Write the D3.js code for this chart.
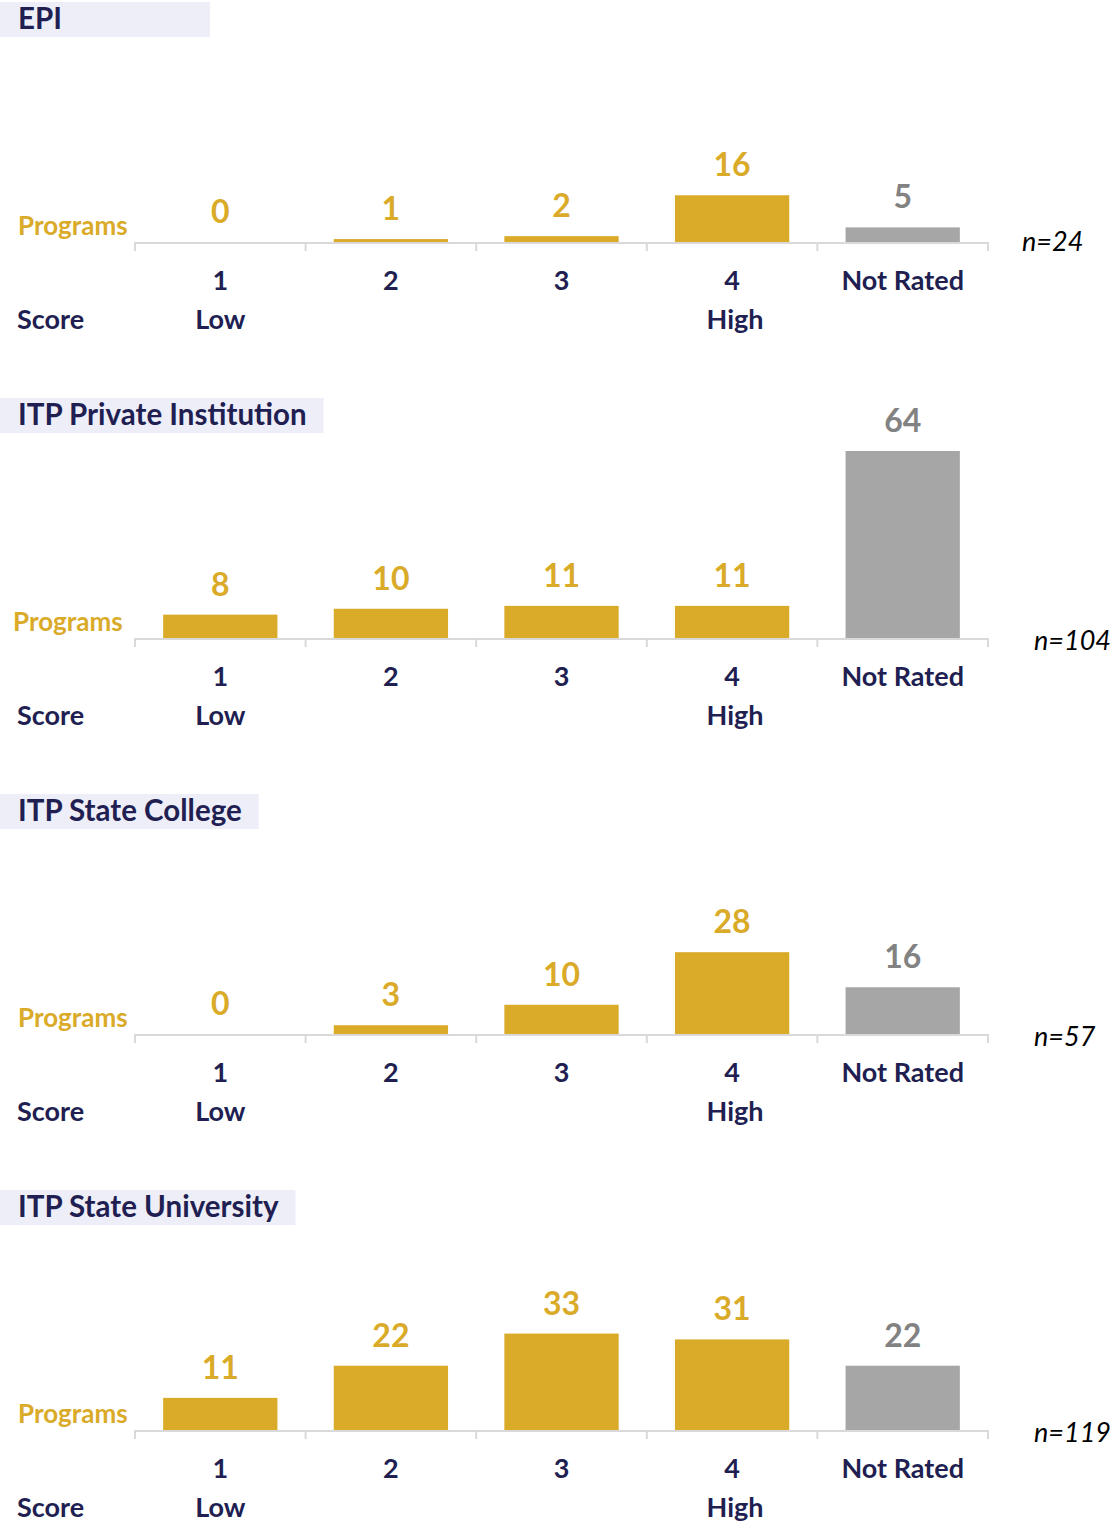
<!DOCTYPE html>
<html>
<head>
<meta charset="utf-8">
<script src="https://cdn.jsdelivr.net/npm/d3@7"></script>
<style>
  html, body { margin: 0; padding: 0; background: #fff; }
  text { font-family: Lato, "Open Sans", sans-serif; }
</style>
</head>
<body>
<svg id="chart"></svg>
<script>
// data
const categories = ['1', '2', '3', '4', 'Not Rated'];
const panelTitles = ['EPI', 'ITP Private Institution', 'ITP State College', 'ITP State University'];
const epiValues = [0, 1, 2, 16, 5];
const privateValues = [8, 10, 11, 11, 64];
const collegeValues = [0, 3, 10, 28, 16];
const universityValues = [11, 22, 33, 31, 22];
const panelValues = [epiValues, privateValues, collegeValues, universityValues];
const panelN = [24, 104, 57, 119];

const WIDTH = 1110;
const HEIGHT = 1525;
const NAVY = '#211f52';
const GOLD = '#daaa29';
const GREY_BAR = '#a6a6a6';
const GREY_LABEL = '#828282';
const AXIS = '#d9d9d9';
const FIRST_AXIS_Y = 242;
const PANEL_STEP = 396;
const LABEL_SIZE = 27;

const svg = d3.select('#chart')
    .attr('width', WIDTH)
    .attr('height', HEIGHT);

svg.append('rect')
    .attr('width', WIDTH)
    .attr('height', HEIGHT)
    .attr('fill', '#fff');

const x = d3.scaleBand()
    .domain(categories)
    .range([135, 988])
    .paddingInner(0.33)
    .paddingOuter(0.165);

// one bar scale shared by all panels (largest bar is 64)
const barHeight = d3.scaleLinear()
    .domain([0, 64])
    .range([0, 187]);

const isNotRated = (cat) => cat === 'Not Rated';

panelTitles.forEach((title, i) => {
    const axisY = FIRST_AXIS_Y + i * PANEL_STEP;
    const g = svg.append('g').attr('class', 'panel');
    const rows = categories.map((cat, j) => ({ cat, value: panelValues[i][j] }));

    // title with tinted box
    const titleBox = g.append('rect')
        .attr('x', 0)
        .attr('y', axisY - 240)
        .attr('height', 35)
        .attr('fill', '#eeeef9');
    const titleText = g.append('text')
        .attr('x', 18)
        .attr('y', axisY - 213)
        .attr('font-size', 29.5)
        .attr('font-weight', 700)
        .attr('fill', NAVY)
        .text(title);
    const titleWidth = titleText.node().getComputedTextLength();
    titleBox.attr('width', Math.max(210, titleWidth + 35));

    // bars
    g.selectAll('rect.bar')
        .data(rows)
        .join('rect')
        .attr('class', 'bar')
        .attr('x', (d) => x(d.cat))
        .attr('width', x.bandwidth())
        .attr('y', (d) => axisY - barHeight(d.value))
        .attr('height', (d) => barHeight(d.value))
        .attr('fill', (d) => (isNotRated(d.cat) ? GREY_BAR : GOLD));

    // value labels
    g.selectAll('text.value')
        .data(rows)
        .join('text')
        .attr('class', 'value')
        .attr('x', (d) => x(d.cat) + x.bandwidth() / 2)
        .attr('y', (d) => axisY - barHeight(d.value) - 19)
        .attr('text-anchor', 'middle')
        .attr('font-size', 32)
        .attr('font-weight', 700)
        .attr('fill', (d) => (isNotRated(d.cat) ? GREY_LABEL : GOLD))
        .text((d) => d.value);

    // axis line + boundary ticks
    const step = x.step();
    const edges = d3.range(categories.length + 1).map((k) => x.range()[0] + k * step);
    g.append('line')
        .attr('x1', x.range()[0])
        .attr('x2', x.range()[1])
        .attr('y1', axisY + 1)
        .attr('y2', axisY + 1)
        .attr('stroke', AXIS)
        .attr('stroke-width', 2);
    g.selectAll('line.tick')
        .data(edges)
        .join('line')
        .attr('class', 'tick')
        .attr('x1', (d) => d)
        .attr('x2', (d) => d)
        .attr('y1', axisY)
        .attr('y2', axisY + 9)
        .attr('stroke', AXIS)
        .attr('stroke-width', 2);

    // category labels via d3 axis
    const xAxis = d3.axisBottom(x).tickSize(0).tickPadding(0);
    const axisG = g.append('g')
        .attr('transform', `translate(0,${axisY})`)
        .call(xAxis);
    axisG.select('path.domain').remove();
    axisG.selectAll('text')
        .attr('dy', null)
        .attr('y', 48)
        .attr('font-family', 'Lato, "Open Sans", sans-serif')
        .attr('font-size', LABEL_SIZE)
        .attr('font-weight', 700)
        .attr('fill', NAVY);

    // Low / High / Score
    const subY = axisY + 87;
    g.append('text')
        .attr('x', 17).attr('y', subY)
        .attr('font-size', LABEL_SIZE).attr('font-weight', 700).attr('fill', NAVY)
        .text('Score');
    g.append('text')
        .attr('x', x('1') + x.bandwidth() / 2).attr('y', subY)
        .attr('text-anchor', 'middle')
        .attr('font-size', LABEL_SIZE).attr('font-weight', 700).attr('fill', NAVY)
        .text('Low');
    g.append('text')
        .attr('x', x('4') + x.bandwidth() / 2 + 3).attr('y', subY)
        .attr('text-anchor', 'middle')
        .attr('font-size', LABEL_SIZE).attr('font-weight', 700).attr('fill', NAVY)
        .text('High');

    // Programs label
    g.append('text')
        .attr('x', i === 1 ? 13 : 18)
        .attr('y', axisY - 7)
        .attr('font-size', 26)
        .attr('font-weight', 700)
        .attr('fill', GOLD)
        .text('Programs');

    // n label
    g.append('text')
        .attr('x', i === 0 ? 1022 : 1034)
        .attr('y', axisY + 9 + (i === 0 ? 0 : 3))
        .attr('font-size', LABEL_SIZE)
        .attr('font-style', 'italic')
        .attr('fill', '#000')
        .text(`n=${panelN[i]}`);
});
</script>
</body>
</html>
